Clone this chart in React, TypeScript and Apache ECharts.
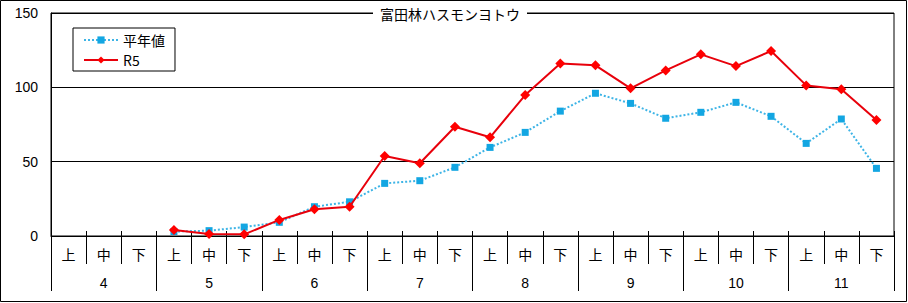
import React, { useEffect, useRef } from "react";
import * as echarts from "echarts";

const months = ["4", "5", "6", "7", "8", "9", "10", "11"];
const thirds = ["上", "中", "下"];
const categories: string[] = months.flatMap(() => thirds);
const yTicks = [0, 50, 100, 150];
const titleText = "富田林ハスモンヨトウ";

const normalName = "平年値";
const normalValues: (number | null)[] = [
  null, null, null,
  3, 3.6, 6,
  9.2, 19.7, 23,
  35.4, 37.2, 46.2,
  59.6, 69.7, 84,
  96, 89.2, 79.2,
  83.2, 89.9, 80.5,
  62.3, 78.7, 45.5,
];

const r5Name = "R5";
const r5Values: (number | null)[] = [
  null, null, null,
  4, 1.3, 1.1,
  10.8, 18, 19.7,
  53.8, 48.9, 73.5,
  66.4, 94.8, 116,
  114.8, 99.3, 111.4,
  122.2, 114.3, 124.4,
  101.3, 98.7, 78,
];

const FONT = "'Liberation Sans', 'Noto Sans CJK JP', sans-serif";
const CJK = "'Noto Sans CJK JP', sans-serif";

export default function App() {
  const ref = useRef<HTMLDivElement>(null);
  useEffect(() => {
    if (!ref.current) return;
    const chart = echarts.init(ref.current, null, { renderer: "svg" });
    chart.setOption({
      animation: false,
      backgroundColor: "#fff",
      title: {
        text: titleText,
        left: 373,
        top: 6,
        padding: [0, 7, 0, 7],
        backgroundColor: "#fff",
        textStyle: {
          fontFamily: CJK,
          fontSize: 14,
          fontWeight: "normal",
          color: "#000",
          lineHeight: 16,
        },
      },
      legend: {
        orient: "vertical",
        left: 73,
        top: 28,
        padding: [3, 10, 2, 10],
        itemGap: 2,
        itemWidth: 34,
        itemHeight: 9,
        borderColor: "#000",
        borderWidth: 1,
        borderRadius: 0,
        backgroundColor: "#fff",
        textStyle: { fontFamily: CJK, fontSize: 14, color: "#000", lineHeight: 18 },
        data: [normalName, r5Name],
      },
      graphic: [
        {
          type: "rect",
          shape: { x: 0.5, y: 0.5, width: 906, height: 301 },
          style: { fill: "none", stroke: "#000", lineWidth: 1 },
          silent: true,
        },
      ],
      grid: {
        left: 51,
        top: 13,
        right: 14,
        bottom: 67,
        show: true,
        borderColor: "#000",
        borderWidth: 1,
        backgroundColor: "transparent",
      },
      xAxis: [
        {
          type: "category",
          data: categories,
          position: "bottom",
          axisLine: { show: true, lineStyle: { color: "#000", width: 1 } },
          axisTick: { show: true, inside: true, length: 5, lineStyle: { color: "#000" } },
          axisLabel: { interval: 0, margin: 11, fontSize: 14, color: "#000", fontFamily: CJK },
        },
        {
          type: "category",
          data: categories,
          position: "bottom",
          axisLine: { show: false },
          axisTick: { show: true, inside: false, length: 28, lineStyle: { color: "#000" } },
          axisLabel: { show: false },
        },
        {
          type: "category",
          data: months,
          position: "bottom",
          axisLine: { show: false },
          axisTick: { show: true, inside: false, length: 55, lineStyle: { color: "#000" } },
          axisLabel: { interval: 0, margin: 40, fontSize: 14, color: "#000", fontFamily: FONT },
        },
      ],
      yAxis: {
        type: "value",
        min: yTicks[0],
        max: yTicks[yTicks.length - 1],
        interval: 50,
        axisLine: { show: true, lineStyle: { color: "#000" } },
        axisTick: { show: false },
        axisLabel: { margin: 13, fontSize: 14, color: "#000", fontFamily: FONT },
        splitLine: { show: true, lineStyle: { color: "#000", width: 1 } },
      },
      series: [
        {
          name: normalName,
          type: "line",
          xAxisIndex: 0,
          data: normalValues,
          symbol: "rect",
          symbolSize: 7,
          itemStyle: { color: "#13A6E2" },
          lineStyle: { color: "#3DB4E6", width: 2, type: "dotted" },
          z: 2,
        },
        {
          name: r5Name,
          type: "line",
          xAxisIndex: 0,
          data: r5Values,
          symbol: "diamond",
          symbolSize: 10,
          itemStyle: { color: "#FF0000" },
          lineStyle: { color: "#E8000B", width: 2 },
          z: 3,
        },
      ],
    });
    return () => chart.dispose();
  }, []);
  return (
    <div
      ref={ref}
      style={{ position: "fixed", left: 0, top: 0, width: 908, height: 303 }}
    />
  );
}
